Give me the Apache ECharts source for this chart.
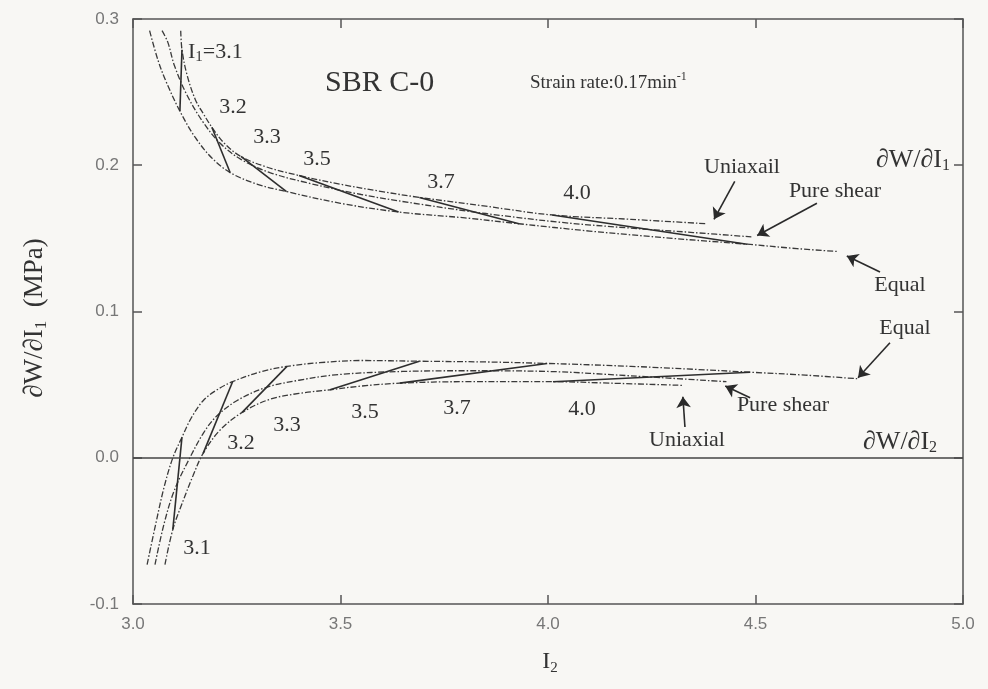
<!DOCTYPE html>
<html><head><meta charset="utf-8">
<script src="https://cdn.jsdelivr.net/npm/echarts@6/dist/echarts.min.js"></script>
<style>html,body{margin:0;padding:0;background:#f8f7f4;}#c{width:988px;height:689px;}</style>
</head><body><div id="c"></div>
<script>
// ---- axis ticks ----
const xTicks = [3.0, 3.5, 4.0, 4.5, 5.0];
const yTicks = [-0.1, 0.0, 0.1, 0.2, 0.3];

// ---- dW/dI1 curves (I2, value) ----
const upperUniaxial = [[3.115,0.292],[3.118,0.279],[3.13,0.262],[3.15,0.245],[3.17,0.235],[3.19,0.226],[3.22,0.215],[3.26,0.206],[3.32,0.199],[3.40,0.193],[3.5,0.187],[3.6,0.182],[3.69,0.178],[3.85,0.172],[4.01,0.166],[4.2,0.163],[4.383,0.160]];
const upperPureShear = [[3.07,0.292],[3.084,0.284],[3.10,0.268],[3.13,0.248],[3.17,0.229],[3.21,0.215],[3.26,0.204],[3.33,0.195],[3.42,0.188],[3.55,0.180],[3.7,0.173],[3.85,0.167],[4.03,0.161],[4.2,0.157],[4.35,0.154],[4.49,0.151]];
const upperEqual = [[3.04,0.292],[3.06,0.272],[3.08,0.257],[3.113,0.237],[3.15,0.219],[3.19,0.205],[3.234,0.195],[3.30,0.187],[3.37,0.182],[3.5,0.174],[3.64,0.168],[3.8,0.164],[3.93,0.160],[4.1,0.155],[4.3,0.150],[4.48,0.146],[4.6,0.143],[4.70,0.141]];

// ---- dW/dI2 curves ----
const lowerUniaxial = [[3.077,-0.073],[3.096,-0.049],[3.12,-0.030],[3.145,-0.012],[3.169,0.003],[3.21,0.019],[3.263,0.031],[3.33,0.040],[3.40,0.044],[3.475,0.0465],[3.55,0.049],[3.643,0.051],[3.8,0.052],[4.012,0.052],[4.15,0.051],[4.325,0.0495]];
const lowerPureShear = [[3.053,-0.073],[3.075,-0.045],[3.10,-0.022],[3.137,0.0],[3.17,0.017],[3.20,0.028],[3.25,0.039],[3.32,0.048],[3.40,0.053],[3.5,0.057],[3.65,0.059],[3.8,0.0595],[4.0,0.059],[4.2,0.056],[4.43,0.052]];
const lowerEqual = [[3.034,-0.073],[3.055,-0.045],[3.075,-0.020],[3.096,0.0],[3.118,0.014],[3.14,0.027],[3.169,0.039],[3.20,0.046],[3.24,0.052],[3.31,0.059],[3.371,0.0625],[3.45,0.065],[3.55,0.0665],[3.69,0.066],[3.85,0.0655],[3.998,0.0645],[4.2,0.0625],[4.35,0.0605],[4.487,0.0585],[4.62,0.0565],[4.747,0.054]];

// ---- constant-I1 connecting lines ----
const i1Labels = ['3.1','3.2','3.3','3.5','3.7','4.0'];
const upperIsoI1 = [
  [[3.118,0.279],[3.113,0.237]],
  [[3.19,0.226],[3.234,0.195]],
  [[3.26,0.206],[3.37,0.182]],
  [[3.40,0.193],[3.64,0.168]],
  [[3.69,0.178],[3.93,0.160]],
  [[4.01,0.166],[4.48,0.146]]
];
const lowerIsoI1 = [
  [[3.096,-0.049],[3.118,0.014]],
  [[3.169,0.003],[3.24,0.052]],
  [[3.263,0.031],[3.371,0.0625]],
  [[3.475,0.0465],[3.69,0.066]],
  [[3.643,0.051],[3.998,0.0645]],
  [[4.012,0.052],[4.487,0.0585]]
];

// ---- annotation arrows (data coords: from -> to) ----
const arrows = [
  [[4.45,0.189],[4.40,0.163]],
  [[4.648,0.174],[4.504,0.152]],
  [[4.80,0.127],[4.72,0.138]],
  [[4.824,0.0786],[4.747,0.0547]],
  [[4.487,0.041],[4.427,0.049]],
  [[4.33,0.021],[4.325,0.0417]]
];

const chart = echarts.init(document.getElementById('c'), null, {renderer:'canvas'});
const ink = '#3a3a3a';
const dashDot = [6,2,1.5,2];
function curve(d){return {type:'line',data:d,smooth:0.35,showSymbol:false,symbol:'none',lineStyle:{color:ink,width:1.3,type:dashDot},z:3,silent:true,animation:false};}
function solid(d){return {type:'line',data:d,showSymbol:false,symbol:'none',lineStyle:{color:'#2e2e2e',width:1.6},z:4,silent:true,animation:false};}

const series = [];
[upperUniaxial,upperPureShear,upperEqual,lowerUniaxial,lowerPureShear,lowerEqual].forEach(d=>series.push(curve(d)));
upperIsoI1.forEach(d=>series.push(solid(d)));
lowerIsoI1.forEach(d=>series.push(solid(d)));
series.push({type:'line',data:[],markLine:{silent:true,symbol:['none','none'],label:{show:false},lineStyle:{color:'#444',width:1.5,type:'solid'},data:[{yAxis:0}]}});
series.push({type:'lines',coordinateSystem:'cartesian2d',symbol:['none','arrow'],symbolSize:11,lineStyle:{color:'#2a2a2a',width:1.6,opacity:1},itemStyle:{color:'#2a2a2a'},data:arrows.map(a=>({coords:a})),silent:true,animation:false,z:5});

const serif = '"Liberation Serif","DejaVu Serif",serif';
const sans = '"Liberation Sans","DejaVu Sans",sans-serif';
function txt(x,y,t,size,align){return {type:'text',x:x,y:y,style:{text:t,font:size+'px '+serif,fill:'#333',align:align||'center',verticalAlign:'middle'},z:10};}
const subRich = {s:{fontSize:15,fontFamily:serif,fill:'#333',padding:[10,0,0,0]}};
const axLine = {show:true,onZero:false,lineStyle:{color:'#555',width:1.5}};
const axTick = {inside:true,length:9,lineStyle:{color:'#555',width:1.5}};

chart.setOption({
  backgroundColor:'#f8f7f4',
  animation:false,
  grid:{left:133,right:25,top:19,bottom:85},
  xAxis:[{type:'value',min:3,max:5,interval:0.5,axisLine:axLine,axisTick:axTick,
    splitLine:{show:false},axisLabel:{color:'#777',fontFamily:sans,fontSize:17,margin:12,formatter:v=>v.toFixed(1)}},
    {type:'value',position:'top',min:3,max:5,interval:0.5,axisLine:axLine,axisTick:axTick,axisLabel:{show:false},splitLine:{show:false}}],
  yAxis:[{type:'value',min:-0.1,max:0.3,interval:0.1,axisLine:axLine,axisTick:axTick,
    splitLine:{show:false},axisLabel:{color:'#777',fontFamily:sans,fontSize:17,margin:14,formatter:v=>v.toFixed(1)}},
    {type:'value',position:'right',min:-0.1,max:0.3,interval:0.1,axisLine:axLine,axisTick:axTick,axisLabel:{show:false},splitLine:{show:false}}],
  series:series,
  graphic:[
    txt(325,83,'SBR C-0',30,'left'),
    {type:'text',x:530,y:83,style:{text:'Strain rate:0.17min{u|-1}',font:'19px '+serif,fill:'#333',verticalAlign:'middle',rich:{u:{fontSize:12,fontFamily:serif,fill:'#333',padding:[0,0,13,0]}}},z:10},
    {type:'text',x:188,y:52,style:{text:'I{s|1}=3.1',font:'22px '+serif,fill:'#333',verticalAlign:'middle',rich:subRich},z:10},
    txt(233,107,'3.2',22), txt(267,137,'3.3',22), txt(317,159,'3.5',22), txt(441,182,'3.7',22), txt(577,193,'4.0',22),
    txt(197,548,'3.1',22), txt(241,443,'3.2',22), txt(287,425,'3.3',22), txt(365,412,'3.5',22), txt(457,408,'3.7',22), txt(582,409,'4.0',22),
    txt(742,167,'Uniaxail',22), txt(835,191,'Pure shear',22), txt(900,285,'Equal',22),
    txt(905,328,'Equal',22), txt(783,405,'Pure shear',22), txt(687,440,'Uniaxial',22),
    {type:'text',x:950,y:160,style:{text:'∂W/∂I{s|1}',font:'26px '+serif,fill:'#333',align:'right',verticalAlign:'middle',rich:{s:{fontSize:16,fontFamily:serif,fill:'#333',padding:[12,0,0,0]}}},z:10},
    {type:'text',x:863,y:442,style:{text:'∂W/∂I{s|2}',font:'26px '+serif,fill:'#333',verticalAlign:'middle',rich:{s:{fontSize:16,fontFamily:serif,fill:'#333',padding:[12,0,0,0]}}},z:10},
    {type:'text',x:550,y:662,style:{text:'I{s|2}',font:'24px '+serif,fill:'#333',align:'center',verticalAlign:'middle',rich:{s:{fontSize:15,fontFamily:serif,fill:'#333',padding:[12,0,0,0]}}},z:10},
    {type:'text',x:35,y:318,rotation:Math.PI/2,style:{text:'∂W/∂I{s|1}  (MPa)',font:'27px '+serif,fill:'#333',align:'center',verticalAlign:'middle',rich:{s:{fontSize:17,fontFamily:serif,fill:'#333',padding:[13,0,0,0]}}},z:10}
  ]
});
</script></body></html>
